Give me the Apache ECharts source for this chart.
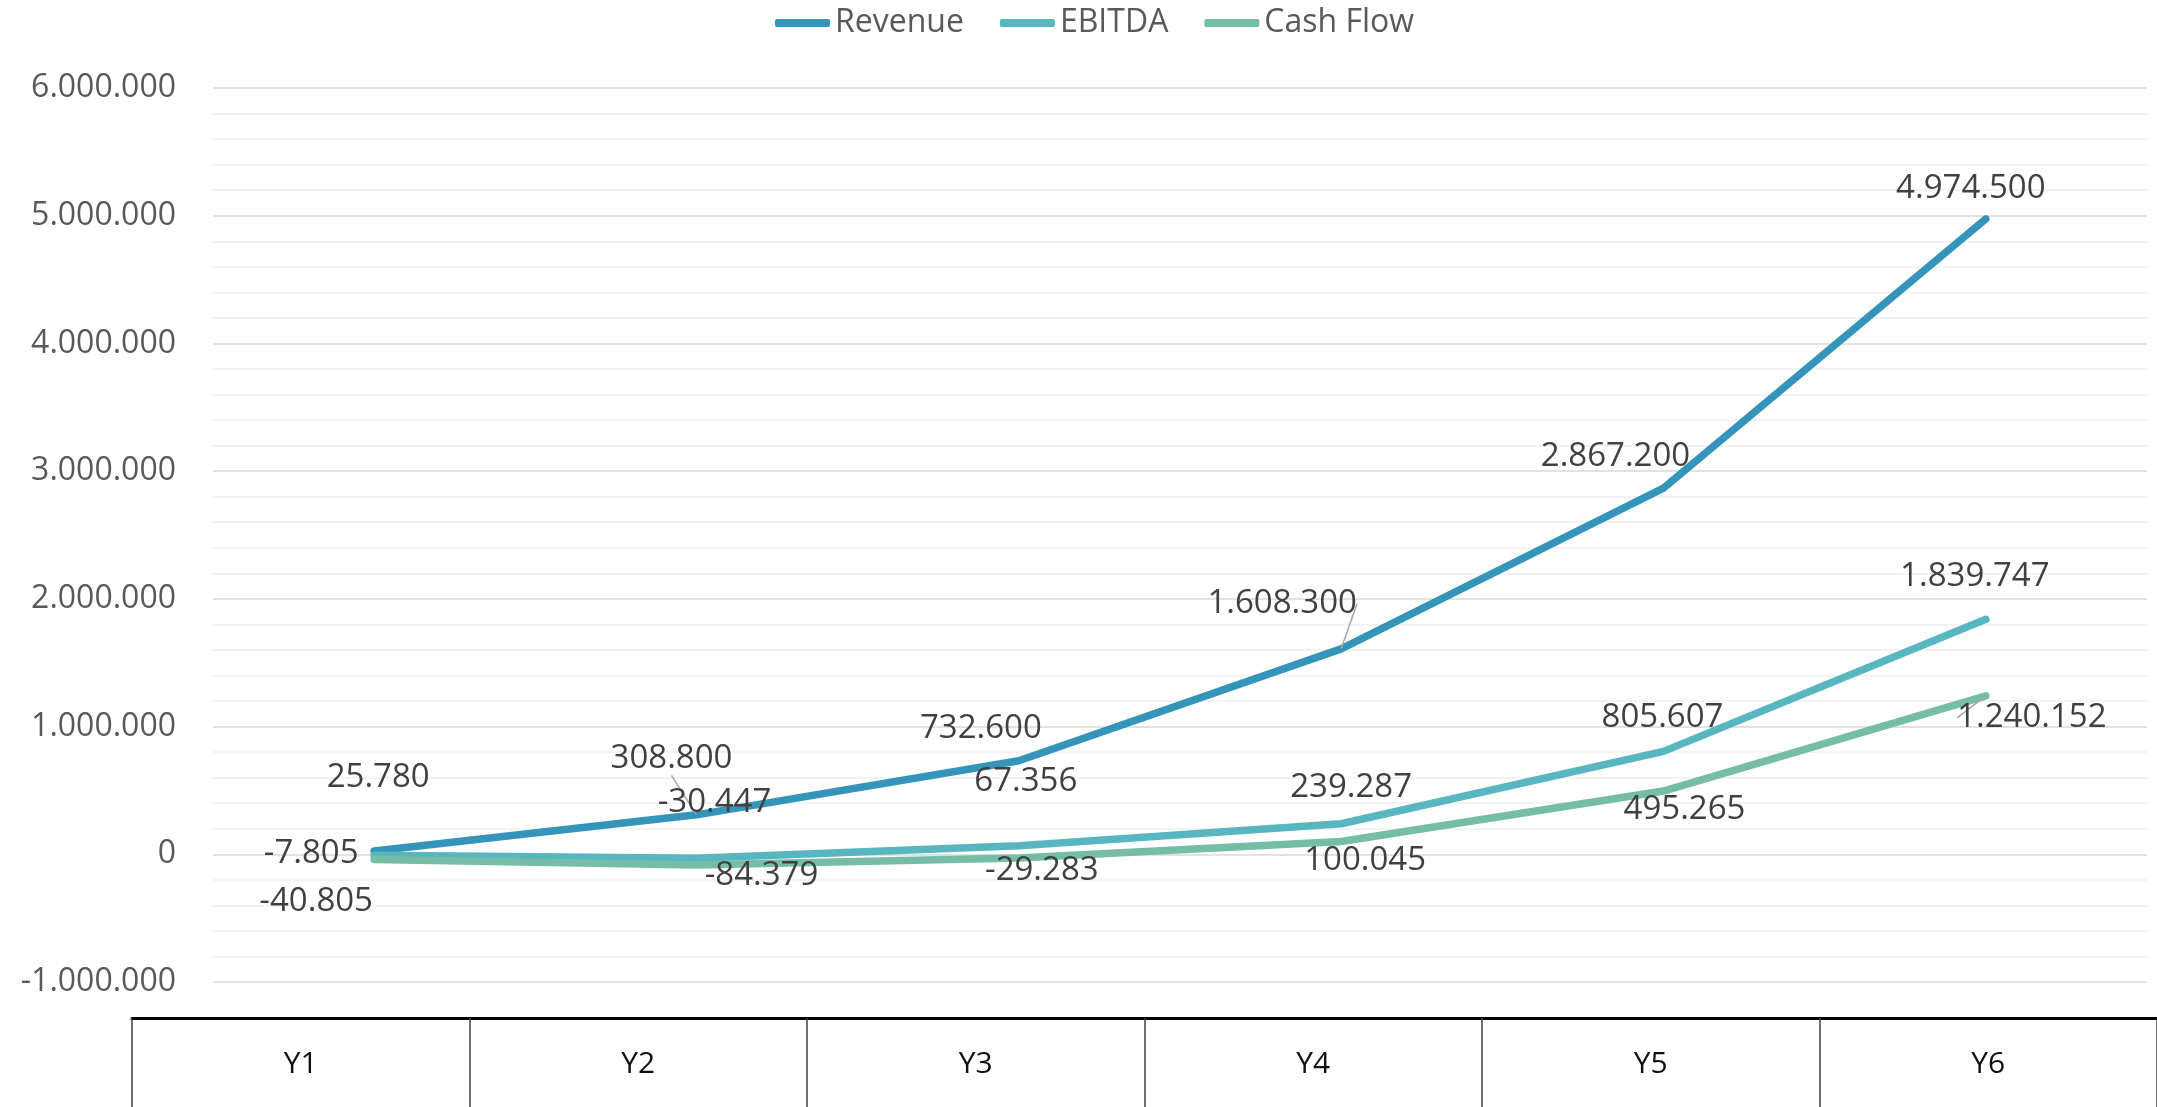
<!DOCTYPE html>
<html>
<head>
<meta charset="utf-8">
<script src="https://cdn.jsdelivr.net/npm/echarts@6/dist/echarts.min.js"></script>
<style>
html,body{margin:0;padding:0;background:#fff;}
#chart{width:2157px;height:1107px;}
</style>
</head>
<body>
<div id="chart"></div>
<script>
// ---- data ----
const categories = ['Y1', 'Y2', 'Y3', 'Y4', 'Y5', 'Y6'];
const revenue = [25780, 308800, 732600, 1608300, 2867200, 4974500];
const ebitda = [-7805, -30447, 67356, 239287, 805607, 1839747];
const cashFlow = [-40805, -84379, -29283, 100045, 495265, 1240152];
const yMin = -1000000, yMax = 6000000, yStep = 1000000;

// ---- label placement (styling, not data) ----
const labelOffsets = [
  [[4, -73], [-25, -56], [-38, -32], [-59, -45], [-48, -32], [-15, -30]],
  [[-63, -2], [18, -56], [7, -64], [10, -36], [-1, -34], [-11, -43]],
  [[-58, 42], [65, 11], [23, 13], [24, 19], [21, 19], [46, 22]]
];
const leaderLines = [[1, 3], [], [5]];

function fmt(v) {
  const s = Math.abs(Math.round(v)).toString().replace(/\B(?=(\d{3})+(?!\d))/g, '.');
  return (v < 0 ? '-' : '') + s;
}

const colors = ['#3494BA', '#58B6C0', '#75BDA7'];
const names = ['Revenue', 'EBITDA', 'Cash Flow'];
const values = [revenue, ebitda, cashFlow];

const series = values.map((arr, si) => ({
  name: names[si],
  type: 'line',
  xAxisIndex: 0,
  yAxisIndex: 0,
  data: arr.map((v, i) => leaderLines[si].indexOf(i) >= 0
    ? { value: v, labelLine: { show: true } }
    : { value: v }),
  symbol: 'circle',
  symbolSize: 1,
  showSymbol: true,
  lineStyle: { width: 7.5, color: colors[si], cap: 'round', join: 'round' },
  itemStyle: { color: colors[si] },
  label: {
    show: true,
    position: 'inside',
    formatter: p => fmt(p.value),
    fontFamily: 'Open Sans',
    fontSize: 33,
    color: '#404040'
  },
  labelLine: { show: false, lineStyle: { color: '#a6a6a6', width: 1.5 } },
  labelLayout: function (params) {
    const o = labelOffsets[si][params.dataIndex];
    return { dx: o[0], dy: o[1] };
  },
  emphasis: { disabled: true },
  animation: false
}));

// table row at the bottom (category cells)
series.push({
  type: 'line',
  xAxisIndex: 1,
  yAxisIndex: 1,
  data: [],
  silent: true
});

const chart = echarts.init(document.getElementById('chart'));
chart.setOption({
  animation: false,
  color: colors,
  legend: {
    data: names,
    top: 2,
    left: 770,
    itemWidth: 55,
    itemHeight: 8,
    itemGap: 36,
    icon: 'roundRect',
    textStyle: { fontFamily: 'Open Sans', fontSize: 32, color: '#595959' }
  },
  grid: [
    { left: 213, right: 10, top: 88, bottom: 125, containLabel: false },
    { left: 132, right: 0, top: 1018, bottom: 0, containLabel: false }
  ],
  xAxis: [
    {
      gridIndex: 0,
      type: 'category',
      data: categories,
      boundaryGap: true,
      axisLine: { show: false },
      axisTick: { show: false },
      axisLabel: { show: false },
      splitLine: { show: false }
    },
    {
      gridIndex: 1,
      type: 'category',
      data: categories,
      position: 'top',
      boundaryGap: true,
      axisLine: { show: true, onZero: false, lineStyle: { color: '#000', width: 3 } },
      axisTick: {
        show: true, inside: true, length: 89, interval: 0,
        lineStyle: { color: '#404040', width: 1.5 }
      },
      axisLabel: {
        show: true, inside: true, margin: 31, interval: 0,
        fontFamily: 'Open Sans', fontSize: 30, color: '#111111'
      },
      splitLine: { show: false }
    }
  ],
  yAxis: [
    {
      gridIndex: 0,
      type: 'value',
      min: yMin,
      max: yMax,
      interval: yStep,
      axisLine: { show: false },
      axisTick: { show: false },
      axisLabel: {
        margin: 37,
        fontFamily: 'Open Sans',
        fontSize: 32,
        color: '#595959',
        formatter: v => fmt(v)
      },
      splitLine: { show: true, lineStyle: { color: '#d9d9d9', width: 1.5 } },
      minorTick: { show: false, splitNumber: 5 },
      minorSplitLine: { show: true, lineStyle: { color: '#f0f0f0', width: 1.5 } }
    },
    {
      gridIndex: 1,
      type: 'value',
      show: false
    }
  ],
  series: series
});
</script>
</body>
</html>
